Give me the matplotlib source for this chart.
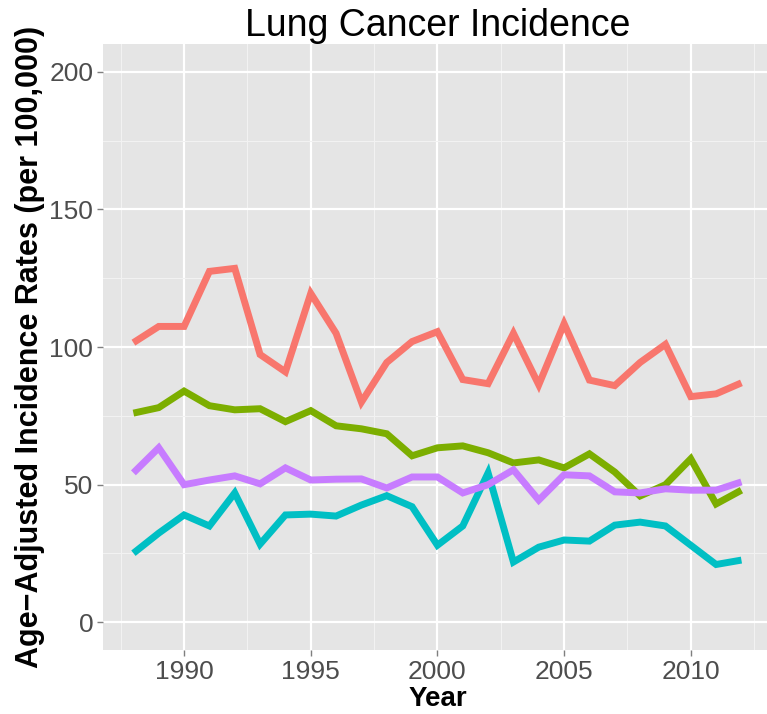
import matplotlib
matplotlib.use("Agg")
import matplotlib.pyplot as plt
import numpy as np

# Data
years = list(range(1988, 2013))

red = [101.6, 107.5, 107.5, 127.5, 128.6, 97.3, 91.0, 119.5, 105.0, 80.0,
       94.4, 102.0, 105.6, 88.2, 86.7, 105.0, 86.3, 108.5, 88.0, 86.0,
       94.4, 101.0, 82.0, 83.0, 87.0]
green = [76.0, 78.0, 84.0, 78.7, 77.2, 77.6, 72.9, 76.9, 71.4, 70.3,
         68.5, 60.5, 63.4, 64.1, 61.6, 57.9, 59.0, 56.1, 61.2, 54.6,
         45.9, 50.0, 59.4, 43.0, 48.0]
cyan = [25.1, 32.4, 39.0, 35.0, 47.0, 28.4, 39.0, 39.3, 38.6, 42.6,
        46.0, 42.0, 28.0, 35.0, 54.3, 21.9, 27.3, 29.9, 29.5, 35.3,
        36.4, 35.0, 28.0, 21.0, 22.6]
purple = [54.3, 63.4, 50.0, 51.7, 53.2, 50.3, 56.1, 51.7, 52.0, 52.1,
          48.8, 52.8, 52.8, 47.0, 50.0, 55.4, 44.4, 53.6, 53.2, 47.4,
          47.0, 48.5, 48.0, 48.0, 51.0]

series = [red, green, cyan, purple]
colors = ["#F8766D", "#7CAE00", "#00BFC4", "#C77CFF"]

plt.rcParams["font.family"] = ["Liberation Sans", "DejaVu Sans"]

fig = plt.figure(figsize=(7.67, 7.14), dpi=100)
ax = fig.add_axes([0.1343, 0.0899, 0.872, 0.848])
ax.set_facecolor("#E5E5E5")

for vals, c in zip(series, colors):
    ax.plot(years, vals, color=c, linewidth=5.0, solid_capstyle="butt",
            solid_joinstyle="miter", zorder=3)

ax.set_xlim(1986.8, 2013.2)
ax.set_ylim(-10, 210)

ax.set_xticks([1990, 1995, 2000, 2005, 2010])
ax.set_yticks([0, 50, 100, 150, 200])
ax.set_xticks(np.arange(1987.5, 2013, 5), minor=True)
ax.set_yticks([25, 75, 125, 175], minor=True)

ax.grid(which="major", color="white", linewidth=1.6, zorder=1)
ax.grid(which="minor", color="#F2F2F2", linewidth=0.8, zorder=1)
ax.set_axisbelow(True)

for s in ax.spines.values():
    s.set_visible(False)

ax.tick_params(which="major", length=4, width=1, color="#7F7F7F",
               labelsize=19, labelcolor="#4D4D4D", pad=3)
ax.tick_params(which="minor", length=0)

ax.set_title("Lung Cancer Incidence", fontsize=27, pad=3)
ax.set_xlabel("Year", fontsize=20, fontweight="bold", labelpad=2)
ax.set_ylabel("Age\u2212Adjusted Incidence Rates (per 100,000)", fontsize=22,
              fontweight="bold", labelpad=3)

fig.savefig("out.png", dpi=100)
